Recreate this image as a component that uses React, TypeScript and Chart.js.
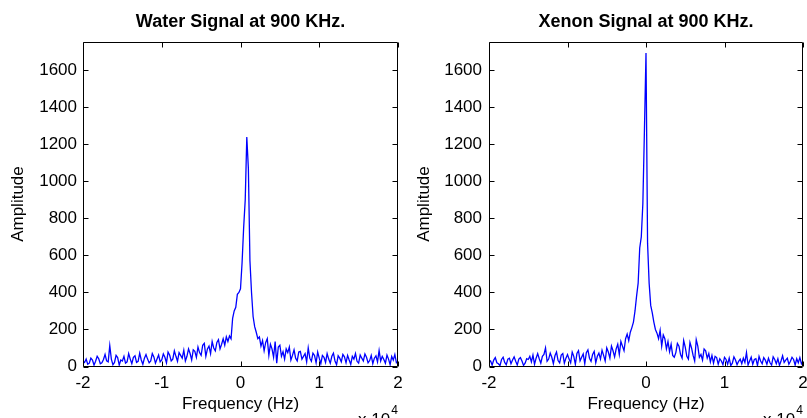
import React, { useEffect, useRef } from "react";
import { Chart, registerables } from "chart.js";

Chart.register(...registerables);

// ---------------- data ----------------
const FREQ_MIN = -20000; // Hz
const FREQ_STEP = 200; // Hz sample spacing
const X_TICKS = [-20000, -10000, 0, 10000, 20000];
const X_TICK_LABELS = ["-2", "-1", "0", "1", "2"];
const Y_TICKS = [0, 200, 400, 600, 800, 1000, 1200, 1400, 1600];
const X_MIN = -20000;
const X_MAX = 20000;
const Y_MIN = 0;
const Y_MAX = 1755;

const TITLES = ["Water Signal at 900 KHz.", "Xenon Signal at 900 KHz."];
const X_TITLE = "Frequency (Hz)";
const Y_TITLE = "Amplitude";
const EXP_BASE = "x 10";
const EXP_POWER = "4";

const waterAmplitude = [
  30, 22, 40, 12, 18, 45, 35, 8, 28, 55,
  42, 15, 20, 38, 65, 30, 25, 113, 40, 10,
  22, 60, 48, 8, 35, 30, 55, 18, 25, 70,
  40, 15, 50, 58, 22, 28, 72, 35, 12, 45,
  65, 40, 20, 30, 70, 52, 18, 40, 62, 25,
  35, 68, 50, 20, 78, 62, 30, 40, 85, 55,
  28, 75, 60, 45, 88, 30, 55, 95, 70, 35,
  90, 82, 50, 105, 75, 60, 115, 125, 55, 95,
  110, 70, 135, 100, 85, 130, 145, 95, 120, 150,
  115, 160, 135, 165, 150, 260, 300, 320, 390, 400,
  420, 560, 750, 900, 1240, 1070, 570, 400, 270, 215,
  185, 150, 160, 110, 140, 85, 130, 150, 60, 120,
  95, 50, 135, 18, 105, 115, 55, 80, 40, 95,
  75, 105, 35, 60, 90, 45, 30, 78, 82, 40,
  55, 70, 25, 100, 45, 28, 72, 60, 20, 78,
  45, 15, 60, 50, 22, 70, 40, 18, 55, 72,
  30, 10, 58, 45, 25, 65, 52, 20, 60, 35,
  12, 55, 40, 70, 28, 18, 62, 45, 30, 68,
  50, 20, 32, 60, 15, 45, 58, 25, 86, 30,
  55, 38, 18, 62, 40, 10, 54, 35, 65, 20,
  25,
];

const xenonAmplitude = [
  25, 30, 8, 35, 48, 20, 15, 5, 38, 50,
  22, 10, 40, 45, 15, 35, 52, 28, 8, 40,
  48, 30, 6, 18, 42, 38, 55, 25, 62, 12,
  45, 70, 42, 18, 55, 65, 100, 28, 40, 72,
  50, 15, 58, 78, 32, 20, 62, 70, 18, 45,
  65, 40, 20, 78, 55, 12, 70, 85, 30, 50,
  68, 15, 75, 90, 45, 28, 65, 82, 20, 55,
  72, 40, 88, 60, 30, 100, 78, 45, 110, 85,
  52, 95, 120, 65, 135, 110, 85, 150, 175, 140,
  185, 210, 240, 300, 380, 450, 640, 700, 880, 1275,
  1693, 665, 450, 330, 290, 240, 200, 180, 150, 195,
  110, 170, 150, 95, 135, 80, 120, 60, 50, 75,
  125, 110, 65, 45, 140, 105, 55, 40, 130, 100,
  60, 30, 145, 110, 50, 65, 35, 95, 85, 45,
  70, 25, 60, 18, 55, 48, 12, 42, 30, 10,
  50, 38, 12, 45, 5, 18, 52, 35, 10, 28,
  40, 15, 45, 22, 75, 8, 30, 50, 12, 38,
  42, 5, 55, 30, 15, 48, 35, 12, 45, 20,
  8, 52, 38, 15, 42, 6, 30, 58, 22, 35,
  45, 12, 28, 50, 38, 8, 42, 20, 48, 15,
  30,
];

// ---------------- styling ----------------
const FONT = "'Liberation Sans', Arial, Helvetica, sans-serif";
const LINE_COLOR = "#0000ff";
const W = 807;
const H = 418;

type PanelLayout = {
  left: number;
  width: number;
  yAxisWidth: number;
  yTickPad: number;
  yTitlePad: number;
  rightPad: number;
};

const PANELS: PanelLayout[] = [
  { left: 0, width: 403, yAxisWidth: 83, yTickPad: 6, yTitlePad: 8, rightPad: 5 },
  { left: 403, width: 404, yAxisWidth: 86, yTickPad: 7, yTitlePad: 11, rightPad: 4 },
];

const boxPlugin = {
  id: "matlabBox",
  afterDraw(chart: any) {
    const { ctx, chartArea: a, scales } = chart;
    const L = Math.round(a.left) + 0.5;
    const R = Math.round(a.right) - 0.5;
    const T = Math.round(a.top) + 0.5;
    const B = Math.round(a.bottom) - 0.5;
    const tl = 5;
    ctx.save();
    ctx.strokeStyle = "#000";
    ctx.lineWidth = 1;
    ctx.beginPath();
    ctx.rect(L, T, R - L, B - T);
    const xs = scales.x;
    xs.ticks.forEach((t: any) => {
      const px = Math.round(xs.getPixelForValue(t.value)) + 0.5;
      ctx.moveTo(px, B);
      ctx.lineTo(px, B - tl);
      ctx.moveTo(px, T);
      ctx.lineTo(px, T + tl);
    });
    const ys = scales.y;
    ys.ticks.forEach((t: any) => {
      const py = Math.round(ys.getPixelForValue(t.value)) + 0.5;
      ctx.moveTo(L, py);
      ctx.lineTo(L + tl, py);
      ctx.moveTo(R, py);
      ctx.lineTo(R - tl, py);
    });
    ctx.stroke();

    // exponent label "x 10^4"
    ctx.fillStyle = "#000";
    ctx.textAlign = "left";
    ctx.textBaseline = "alphabetic";
    ctx.font = `17px ${FONT}`;
    const baseX = a.right - 40;
    ctx.fillText(EXP_BASE, baseX, 424.5);
    const w = ctx.measureText(EXP_BASE).width;
    ctx.font = `12px ${FONT}`;
    ctx.fillText(EXP_POWER, baseX + w + 1, 414);
    ctx.restore();
  },
};

function makeConfig(title: string, values: number[], p: PanelLayout): any {
  const points = values.map((y, i) => ({ x: FREQ_MIN + i * FREQ_STEP, y }));
  return {
    type: "line",
    data: {
      datasets: [
        {
          data: points,
          borderColor: LINE_COLOR,
          borderWidth: 1.3,
          pointRadius: 0,
          tension: 0,
          fill: false,
        },
      ],
    },
    options: {
      animation: false,
      responsive: false,
      devicePixelRatio: 1,
      layout: { padding: { left: 0, right: p.rightPad, top: 0, bottom: 0 } },
      plugins: {
        legend: { display: false },
        tooltip: { enabled: false },
        title: {
          display: true,
          text: title,
          fullSize: false,
          color: "#000",
          font: { family: FONT, size: 18, weight: "bold" },
          padding: { top: 11, bottom: 9 },
        },
      },
      scales: {
        x: {
          type: "linear",
          min: X_MIN,
          max: X_MAX,
          afterBuildTicks: (s: any) => {
            s.ticks = X_TICKS.map((v) => ({ value: v }));
          },
          afterFit: (s: any) => {
            s.height = 51.5;
            s.paddingLeft = 0;
            s.paddingRight = 0;
          },
          grid: { display: false, drawTicks: false },
          border: { display: false },
          ticks: {
            color: "#000",
            padding: 7,
            maxRotation: 0,
            autoSkip: false,
            font: { family: FONT, size: 17 },
            callback: (v: number) => {
              const idx = X_TICKS.indexOf(v);
              return idx >= 0 ? X_TICK_LABELS[idx] : "";
            },
          },
          title: {
            display: true,
            text: X_TITLE,
            color: "#000",
            font: { family: FONT, size: 17 },
            padding: { top: 0, bottom: 3 },
          },
        },
        y: {
          type: "linear",
          min: Y_MIN,
          max: Y_MAX,
          afterBuildTicks: (s: any) => {
            s.ticks = Y_TICKS.map((v) => ({ value: v }));
          },
          afterFit: (s: any) => {
            s.width = p.yAxisWidth;
            s.paddingTop = 0;
            s.paddingBottom = 0;
          },
          grid: { display: false, drawTicks: false },
          border: { display: false },
          ticks: {
            color: "#000",
            padding: p.yTickPad,
            autoSkip: false,
            font: { family: FONT, size: 17 },
            callback: (v: number) => String(v),
          },
          title: {
            display: true,
            text: Y_TITLE,
            color: "#000",
            font: { family: FONT, size: 17 },
            padding: { top: p.yTitlePad, bottom: 0 },
          },
        },
      },
    },
    plugins: [boxPlugin],
  };
}

function Panel({ title, values, layout }: { title: string; values: number[]; layout: PanelLayout }) {
  const ref = useRef<HTMLCanvasElement | null>(null);
  useEffect(() => {
    if (!ref.current) return;
    const chart = new Chart(ref.current, makeConfig(title, values, layout));
    return () => chart.destroy();
  }, [title, values, layout]);
  return (
    <canvas
      ref={ref}
      width={layout.width}
      height={H}
      style={{ position: "absolute", left: layout.left, top: 0, width: layout.width, height: H }}
    />
  );
}

export default function App() {
  return (
    <div style={{ position: "fixed", left: 0, top: 0, width: W, height: H, background: "#fff", overflow: "hidden" }}>
      <Panel title={TITLES[0]} values={waterAmplitude} layout={PANELS[0]} />
      <Panel title={TITLES[1]} values={xenonAmplitude} layout={PANELS[1]} />
    </div>
  );
}
